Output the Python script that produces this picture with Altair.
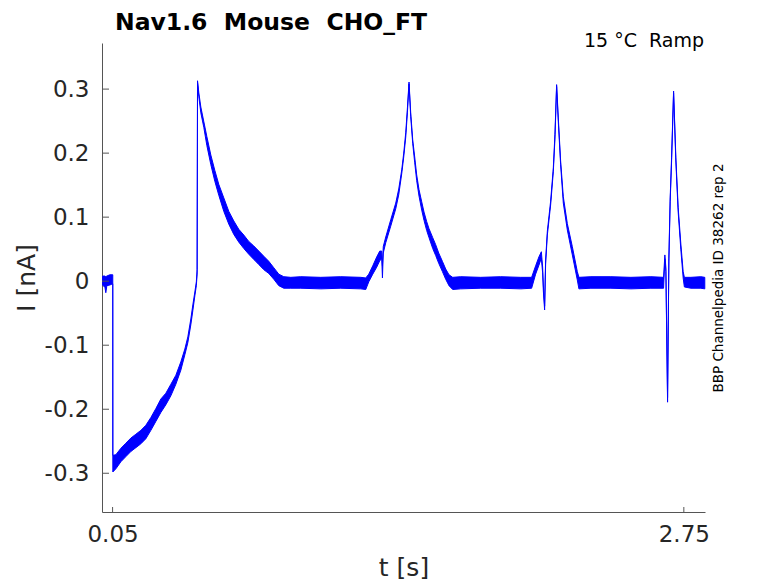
import altair as alt
import pandas as pd

# ---- data (time in s, current band in nA) ----
t_s = [0.003, 0.014, 0.018, 0.023, 0.037, 0.0509, 0.0512, 0.0656, 0.0892, 0.1128,
       0.1364, 0.1601, 0.1837, 0.2073, 0.2309, 0.2545, 0.2782, 0.3018, 0.3254, 0.3490,
       0.3726, 0.3915, 0.4057, 0.4199, 0.4293, 0.4388, 0.4459, 0.4496, 0.4515, 0.4577,
       0.4671, 0.4813, 0.4955, 0.5144, 0.5333, 0.5522, 0.5758, 0.5994, 0.6230, 0.6466,
       0.6703, 0.6939, 0.7175, 0.7411, 0.7647, 0.7884, 0.8120, 0.8356, 0.8592, 0.8923,
       0.9395, 1.0340, 1.1285, 1.2230, 1.2466, 1.2608, 1.2797, 1.2986, 1.3127, 1.3222,
       1.3255, 1.3293, 1.3411, 1.3647, 1.3883, 1.4025, 1.4167, 1.4261, 1.4356, 1.4436,
       1.4511, 1.4591, 1.4685, 1.4780, 1.4874, 1.4983, 1.5111, 1.5219, 1.5347, 1.5456,
       1.5631, 1.5772, 1.5914, 1.6089, 1.6245, 1.6400, 1.6575, 1.6953, 1.7898, 1.8842,
       1.9787, 2.0306, 2.0495, 2.0651, 2.0765, 2.0826, 2.0859, 2.0920, 2.0967, 2.1048,
       2.1204, 2.1331, 2.1407, 2.1487, 2.1567, 2.1676, 2.1803, 2.1993, 2.2229, 2.2465,
       2.2541, 2.3108, 2.4052, 2.4997, 2.5942, 2.6542, 2.6603, 2.6651, 2.6731, 2.6792,
       2.6854, 2.6920, 2.7015, 2.7123, 2.7232, 2.7359, 2.7468, 2.7525, 2.7832, 2.8304,
       2.849]

i_hi = [0.008, 0.008, 0.007, 0.008, 0.010, 0.010, -0.272, -0.271, -0.261, -0.253,
        -0.245, -0.239, -0.233, -0.225, -0.213, -0.199, -0.184, -0.175, -0.161, -0.147,
        -0.126, -0.106, -0.087, -0.059, -0.037, -0.017, -0.001, 0.018, 0.313, 0.294,
        0.272, 0.249, 0.226, 0.197, 0.173, 0.151, 0.130, 0.109, 0.094, 0.081,
        0.072, 0.062, 0.055, 0.047, 0.039, 0.031, 0.021, 0.011, 0.007, 0.006,
        0.007, 0.006, 0.007, 0.006, 0.005, 0.011, 0.024, 0.038, 0.047, 0.047,
        0.024, 0.054, 0.069, 0.096, 0.122, 0.144, 0.174, 0.200, 0.232, 0.271,
        0.311, 0.263, 0.221, 0.194, 0.166, 0.143, 0.124, 0.108, 0.093, 0.082,
        0.068, 0.057, 0.044, 0.031, 0.019, 0.010, 0.006, 0.007, 0.006, 0.007,
        0.006, 0.006, 0.024, 0.038, 0.046, 0.022, -0.006, -0.039, 0.033, 0.078,
        0.125, 0.177, 0.229, 0.307, 0.255, 0.188, 0.132, 0.090, 0.054, 0.015,
        0.006, 0.007, 0.007, 0.006, 0.007, 0.006, 0.041, 0.021, -0.182, 0.036,
        0.130, 0.193, 0.297, 0.193, 0.115, 0.058, 0.015, 0.006, 0.006, 0.007,
        0.006]

i_lo = [-0.006, -0.010, -0.018, -0.007, -0.006, -0.004, -0.298, -0.293, -0.282, -0.274,
        -0.266, -0.260, -0.254, -0.246, -0.233, -0.219, -0.205, -0.193, -0.179, -0.161,
        -0.139, -0.115, -0.096, -0.068, -0.046, -0.023, -0.007, 0.011, 0.310, 0.288,
        0.263, 0.240, 0.212, 0.182, 0.156, 0.134, 0.109, 0.089, 0.073, 0.061,
        0.051, 0.042, 0.034, 0.026, 0.018, 0.012, 0.003, -0.007, -0.011, -0.011,
        -0.011, -0.012, -0.011, -0.012, -0.013, -0.001, 0.011, 0.022, 0.032, 0.035,
        0.005, 0.044, 0.060, 0.086, 0.113, 0.135, 0.168, 0.194, 0.225, 0.264,
        0.308, 0.257, 0.215, 0.185, 0.157, 0.133, 0.111, 0.095, 0.079, 0.068,
        0.051, 0.040, 0.028, 0.015, 0.003, -0.007, -0.013, -0.012, -0.011, -0.011,
        -0.012, -0.011, 0.011, 0.025, 0.036, 0.013, -0.015, -0.045, 0.027, 0.072,
        0.119, 0.171, 0.222, 0.304, 0.249, 0.182, 0.122, 0.080, 0.041, 0.002,
        -0.012, -0.011, -0.011, -0.012, -0.011, -0.011, 0.035, 0.015, -0.189, 0.030,
        0.124, 0.186, 0.294, 0.186, 0.108, 0.049, 0.005, -0.009, -0.011, -0.011,
        -0.012]

x_ticks = [0.05, 2.75]
y_ticks = [-0.3, -0.2, -0.1, 0.0, 0.1, 0.2, 0.3]

title_text = "Nav1.6\u00a0 Mouse\u00a0 CHO_FT"
cond_text = "15 \u00b0C\u00a0 Ramp"
side_text = "BBP Channelpedia ID 38262 rep 2"

FONT = "DejaVu Sans"
AX = "#262626"
LINE = "#0000ff"
W, H = 603, 469

df = pd.DataFrame({"t": t_s, "lo": i_lo, "hi": i_hi})

x_scale = alt.Scale(domain=[0.0, 2.85], nice=False, zero=False)
y_scale = alt.Scale(domain=[-0.3605, 0.372], nice=False, zero=False)

nb = "\u00a0"
y_label_expr = (
    f"datum.value < -0.01 ? '-' + format(-datum.value, '.1f') : "
    f"(datum.value > 0.01 ? format(datum.value, '.1f') + '{nb}' : '0{nb}{nb}{nb}')"
)

x_axis = alt.Axis(values=x_ticks, title="t [s]", labelExpr="format(datum.value, '.2f')",
                  ticks=False, tickSize=0, grid=False, labelFont=FONT, titleFont=FONT,
                  labelFontSize=23, titleFontSize=25, titleFontWeight="normal",
                  labelColor=AX, titleColor=AX, domainColor="#555555", domainWidth=1,
                  labelPadding=11, titlePadding=9, labelOverlap=False)
y_axis = alt.Axis(values=y_ticks, title="I [nA]", labelExpr=y_label_expr,
                  ticks=False, tickSize=0, grid=False, labelFont=FONT, titleFont=FONT,
                  labelFontSize=23, titleFontSize=25, titleFontWeight="normal",
                  labelColor=AX, titleColor=AX, domainColor="#555555", domainWidth=1,
                  labelPadding=13, titlePadding=5, labelOverlap=False, labelAlign="right")

trace = alt.Chart(df).mark_area(color=LINE, stroke=LINE, strokeWidth=1, opacity=1).encode(
    x=alt.X("t:Q", scale=x_scale, axis=x_axis),
    y=alt.Y("lo:Q", scale=y_scale, axis=y_axis),
    y2="hi:Q",
)

ytick_layer = alt.Chart(pd.DataFrame({"v": y_ticks})).mark_rule(color="#555555", strokeWidth=1).encode(
    y=alt.Y("v:Q", scale=y_scale, axis=y_axis),
    x=alt.value(0), x2=alt.value(7),
)
xtick_layer = alt.Chart(pd.DataFrame({"v": x_ticks})).mark_rule(color="#555555", strokeWidth=1).encode(
    x=alt.X("v:Q", scale=x_scale, axis=x_axis),
    y=alt.value(H), y2=alt.value(H - 5),
)

title_layer = alt.Chart(pd.DataFrame({"s": [title_text]})).mark_text(
    font=FONT, fontSize=23.5, fontWeight="bold", color="black", align="left", baseline="alphabetic"
).encode(text="s:N", x=alt.value(13), y=alt.value(-13))

cond_layer = alt.Chart(pd.DataFrame({"s": [cond_text]})).mark_text(
    font=FONT, fontSize=19, color="black", align="right", baseline="alphabetic"
).encode(text="s:N", x=alt.value(W - 1), y=alt.value(4))

side_layer = alt.Chart(pd.DataFrame({"s": [side_text]})).mark_text(
    font=FONT, fontSize=13.5, color="black", align="center", baseline="middle", angle=270
).encode(text="s:N", x=alt.value(617), y=alt.value(235))

chart = alt.layer(trace, ytick_layer, xtick_layer, title_layer, cond_layer, side_layer).properties(
    width=W, height=H,
    autosize=alt.AutoSizeParams(type="none"),
    padding={"left": 94, "top": 35, "right": 63, "bottom": 70},
    background="white",
).configure_view(stroke=None)

chart.save("out.html", embed_options={"renderer": "svg", "actions": False})
